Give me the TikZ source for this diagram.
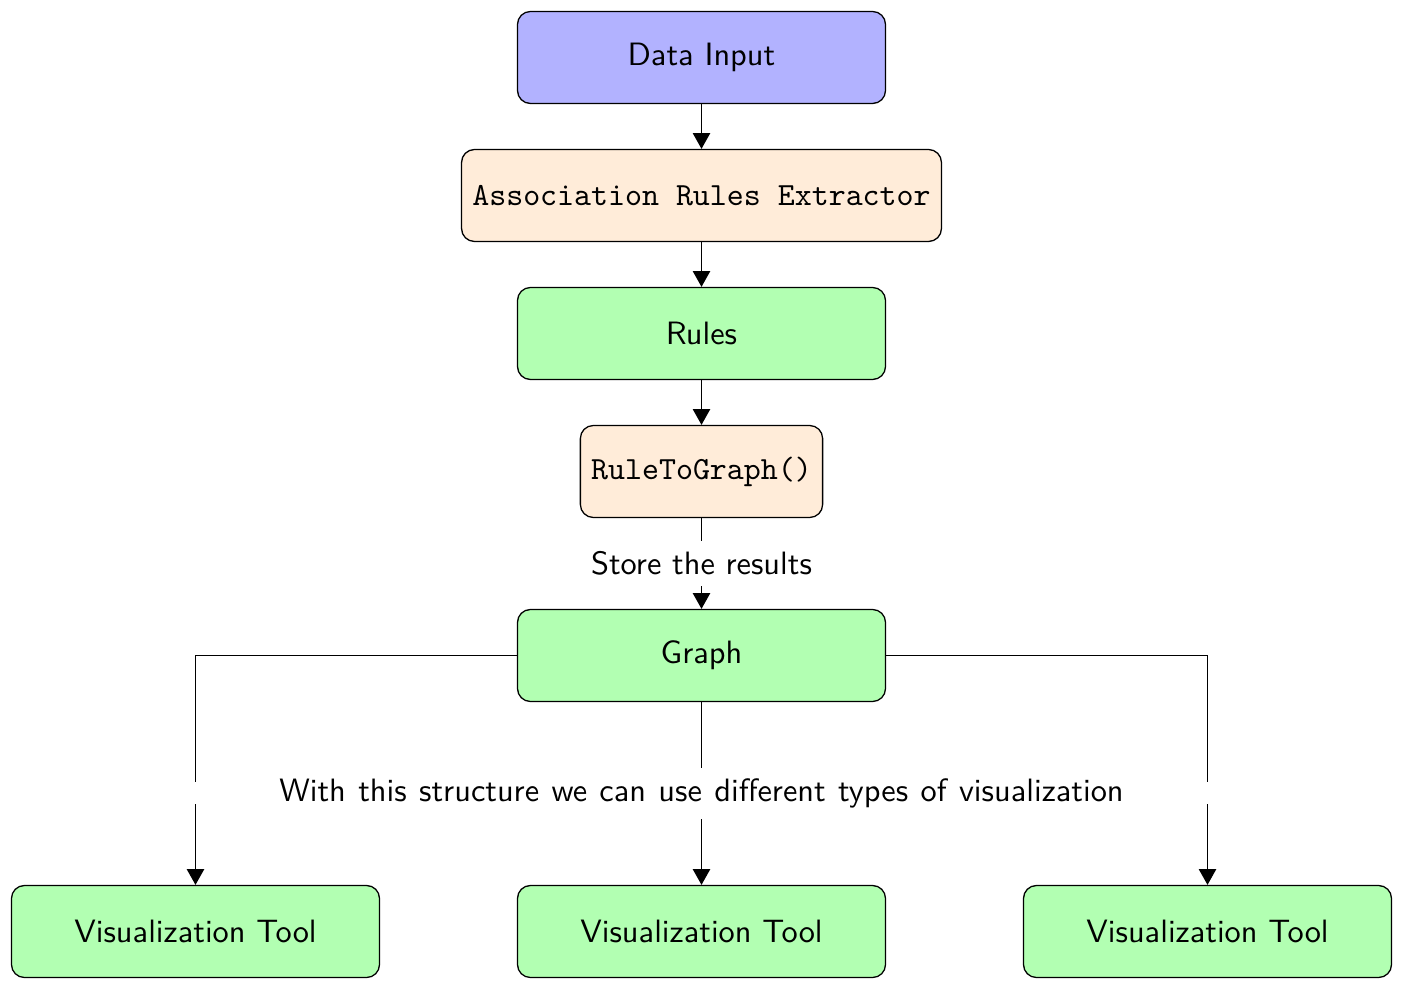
\documentclass[tikz,border=0pt]{standalone}
\usetikzlibrary{arrows.meta,positioning}
\tikzset{
  box/.style={draw=black, rounded corners, minimum width=4cm, minimum height=1cm, align=center, font=\sffamily},
  inbox/.style={box, fill=blue!30},
  procbox/.style={box, fill=orange!15, font=\ttfamily},
  databox/.style={box, fill=green!30},
  arr/.style={-{Triangle[length=4.9pt, width=5.4pt]}, draw=black},
  lbl/.style={fill=white, font=\sffamily},
}
\begin{document}
\begin{tikzpicture}
\useasboundingbox (-7.625,0.625) rectangle (7.625,-10.125);
\node[inbox] (input) at (0,0) {Data Input};
\node[procbox] (extractor) at (0,-1.5) {Association Rules Extractor};
\node[databox] (rules) at (0,-3) {Rules};
\node[procbox, minimum width=0pt] (r2g) at (0,-4.5) {RuleToGraph()};
\node[databox] (graph) at (0,-6.5) {Graph};
\node[databox] (vis1) at (-5.5,-9.5) {Visualization Tool};
\node[databox] (vis2) at (0,-9.5) {Visualization Tool};
\node[databox] (vis3) at (5.5,-9.5) {Visualization Tool};

\draw[arr] (input) -- (extractor);
\draw[arr] (extractor) -- (rules);
\draw[arr] (rules) -- (r2g);
\draw[arr] (r2g) -- node[lbl] {Store the results} (graph);
\draw[arr] (graph.west) -| node[pos=0.8, lbl] {} (vis1.north);
\draw[arr] (graph) -- node[lbl] {\spaceskip=3.83pt\relax With this structure we can use different types of visualization} (vis2);
\draw[arr] (graph.east) -| node[pos=0.8, lbl] {} (vis3.north);
\end{tikzpicture}
\end{document}
